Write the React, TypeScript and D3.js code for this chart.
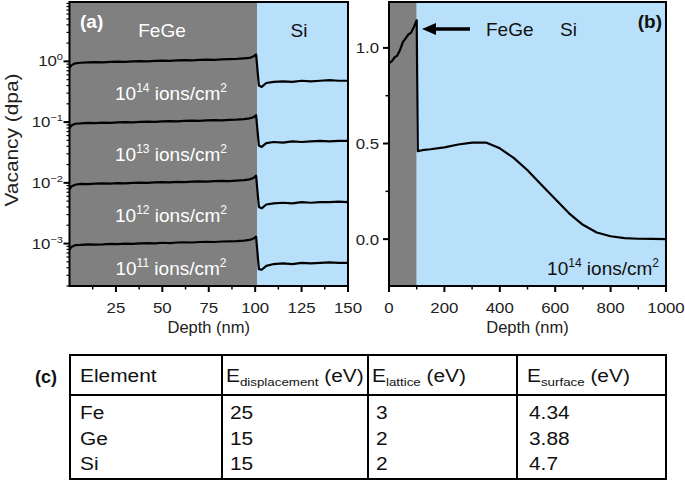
import React from 'react';
import * as d3 from 'd3';

// panel (a): SRIM vacancy profiles, 0-150 nm, log axis
const depthA = [0, 1, 3, 6, 10, 14, 18, 22, 26, 30, 34, 38, 42, 46, 50, 54, 58, 62, 66, 70, 74, 78, 82, 86, 90, 94, 97, 99, 100.5, 102, 103.5, 106, 110, 115, 120, 125, 130, 135, 140, 145, 150];
const vac14 = [0.78, 0.86, 0.93, 0.95, 0.96, 0.97, 0.96, 0.98, 0.99, 0.98, 1.0, 1.01, 1.0, 1.02, 1.03, 1.02, 1.04, 1.05, 1.04, 1.06, 1.07, 1.06, 1.08, 1.09, 1.1, 1.12, 1.14, 1.2, 1.3, 0.4, 0.38, 0.44, 0.46, 0.47, 0.46, 0.48, 0.47, 0.48, 0.49, 0.48, 0.48];
const vac13 = [0.079, 0.088, 0.094, 0.095, 0.097, 0.096, 0.098, 0.097, 0.099, 0.1, 0.099, 0.101, 0.102, 0.101, 0.103, 0.104, 0.103, 0.105, 0.106, 0.105, 0.107, 0.108, 0.107, 0.109, 0.11, 0.112, 0.115, 0.12, 0.13, 0.041, 0.039, 0.045, 0.047, 0.046, 0.048, 0.047, 0.048, 0.049, 0.048, 0.049, 0.049];
const vac12 = [0.0078, 0.0087, 0.0093, 0.0096, 0.0095, 0.0097, 0.0098, 0.0097, 0.0099, 0.0098, 0.01, 0.0101, 0.01, 0.0102, 0.0103, 0.0102, 0.0104, 0.0103, 0.0105, 0.0106, 0.0105, 0.0107, 0.0108, 0.0107, 0.0109, 0.0111, 0.0114, 0.012, 0.0131, 0.004, 0.0038, 0.0044, 0.0046, 0.0047, 0.0046, 0.0048, 0.0047, 0.0048, 0.0048, 0.0049, 0.0048];
const vac11 = [0.00079, 0.00088, 0.00094, 0.00095, 0.00097, 0.00096, 0.00097, 0.00099, 0.00098, 0.001, 0.00099, 0.00101, 0.00102, 0.00101, 0.00103, 0.00102, 0.00104, 0.00105, 0.00104, 0.00106, 0.00107, 0.00106, 0.00108, 0.00109, 0.0011, 0.00112, 0.00115, 0.0012, 0.0013, 0.00038, 0.00037, 0.00043, 0.00046, 0.00047, 0.00046, 0.00048, 0.00047, 0.00048, 0.00049, 0.00048, 0.00048];
const seriesA = [vac14, vac13, vac12, vac11];
const fluenceExp = ['14', '13', '12', '11'];
const fluenceLabelY = [0.23, 0.023, 0.0023, 0.0003];
const logTickExp = [0, -1, -2, -3];
const xTicksA = [25, 50, 75, 100, 125, 150];

// panel (b): 10^14 ions/cm2, 0-1000 nm, linear axis
const depthB = [0, 10, 20, 30, 40, 50, 60, 70, 80, 90, 100, 104, 120, 150, 200, 250, 300, 350, 400, 450, 500, 550, 600, 650, 700, 750, 800, 850, 900, 950, 1000];
const vacB = [0.92, 0.93, 0.95, 0.96, 0.99, 1.03, 1.05, 1.07, 1.08, 1.11, 1.145, 0.46, 0.465, 0.47, 0.48, 0.495, 0.505, 0.505, 0.475, 0.425, 0.36, 0.285, 0.21, 0.135, 0.075, 0.035, 0.015, 0.005, 0.002, 0.001, 0.0];
const yTicksB = [0, 0.5, 1.0];
const xTicksB = [0, 200, 400, 600, 800, 1000];

// table (c)
const elements = ['Fe', 'Ge', 'Si'];
const eDisplacement = ['25', '15', '15'];
const eLattice = ['3', '2', '2'];
const eSurface = ['4.34', '3.88', '4.7'];
const headerSubs = ['displacement', 'lattice', 'surface'];

const FONT = "'Liberation Sans', Arial, sans-serif";
const GRAY = '#808080';
const BLUE = '#b8e0fa';
const FEGE_END = 101;
const SX = 1.16; // the reference text is a little wide

const top = 2;
const bottom = 286;

const xA = d3.scaleLinear().domain([0, 150]).range([69.5, 348]);
const yA = d3.scaleLog().domain([2e-4, 9.5]).range([bottom, top]);
const xB = d3.scaleLinear().domain([0, 1000]).range([389, 666]);
const yB = d3.scaleLinear().domain([-0.245, 1.24]).range([bottom, top]);

const lineA = d3.line<number>().x((_, i) => xA(depthA[i])).y((d) => yA(d));
const lineB = d3.line<number>().x((_, i) => xB(depthB[i])).y((d) => yB(d));

// text stretched a bit horizontally, like in the original figure
const WideText = ({ x, y, children, size = 18, anchor = 'start', fill }: any) => (
  <g transform={`translate(${x},${y}) scale(${SX},1)`}>
    <text fontSize={size} textAnchor={anchor} fill={fill}>{children}</text>
  </g>
);

const Ions = ({ exp, x, y, anchor, fill }: any) => (
  <text x={x} y={y} textAnchor={anchor} fill={fill} fontSize={19}>
    10<tspan fontSize={12} dy={-8}>{exp}</tspan>
    <tspan dy={8}> ions/cm</tspan>
    <tspan fontSize={12} dy={-8}>2</tspan>
  </text>
);

const PanelA = () => {
  const minor: number[] = [];
  for (let e = -4; e <= 0; e++) {
    for (let k = 1; k <= 9; k++) {
      const v = k * Math.pow(10, e);
      if (v >= 2e-4 && v <= 9.5) minor.push(v);
    }
  }
  const xMinor = d3.range(12.5, 150, 25);
  return (
    <g fontFamily={FONT}>
      <rect x={xA(0)} y={top} width={xA(FEGE_END) - xA(0)} height={bottom - top} fill={GRAY} />
      <rect x={xA(FEGE_END)} y={top} width={xA(150) - xA(FEGE_END)} height={bottom - top} fill={BLUE} />
      {seriesA.map((s, i) => (
        <path key={i} d={lineA(s) || ''} fill="none" stroke="#000" strokeWidth={2.2} strokeLinejoin="round" />
      ))}
      {fluenceExp.map((e, i) => (
        <Ions key={e} exp={e} x={171} y={yA(fluenceLabelY[i])} anchor="middle" fill="#fff" />
      ))}
      <text x={80} y={28} fill="#fff" fontWeight="bold" fontSize={19}>(a)</text>
      <text x={162} y={37} fill="#fff" fontSize={19} textAnchor="middle">FeGe</text>
      <text x={299} y={37} fill="#111" fontSize={19} textAnchor="middle">Si</text>
      {/* frame */}
      <rect x={xA(0)} y={top} width={xA(150) - xA(0)} height={bottom - top} fill="none" stroke="#000" strokeWidth={2} />
      {/* y axis ticks */}
      {minor.map((v) => (
        <line key={v} x1={xA(0) - 3} x2={xA(0)} y1={yA(v)} y2={yA(v)} stroke="#000" strokeWidth={1.2} />
      ))}
      {logTickExp.map((e) => (
        <g key={e}>
          <line x1={xA(0) - 6} x2={xA(0)} y1={yA(Math.pow(10, e))} y2={yA(Math.pow(10, e))} stroke="#000" strokeWidth={2} />
          <WideText x={63} y={yA(Math.pow(10, e)) + 5} size={14.5} anchor="end" fill="#222">
            10<tspan fontSize={9.5} dy={-6}>{e === 0 ? '0' : `\u2212${-e}`}</tspan>
          </WideText>
        </g>
      ))}
      {/* x axis ticks */}
      {xMinor.map((v) => (
        <line key={v} x1={xA(v)} x2={xA(v)} y1={bottom} y2={bottom + 3.5} stroke="#000" strokeWidth={1.5} />
      ))}
      {xTicksA.map((v) => (
        <g key={v}>
          <line x1={xA(v)} x2={xA(v)} y1={bottom} y2={bottom + 6} stroke="#000" strokeWidth={2} />
          <WideText x={xA(v)} y={313} size={14.5} anchor="middle" fill="#222">{v}</WideText>
        </g>
      ))}
      <text x={(xA(0) + xA(150)) / 2} y={333} textAnchor="middle" fontSize={16.5} fill="#222">Depth (nm)</text>
      <g transform={`translate(18,140) rotate(-90) scale(${SX},1)`}>
        <text textAnchor="middle" fontSize={18} fill="#222">Vacancy (dpa)</text>
      </g>
    </g>
  );
};

const PanelB = () => {
  const xMinor = d3.range(100, 1000, 200);
  const yMinor = [0.25, 0.75];
  const ay = 29;
  return (
    <g fontFamily={FONT}>
      <rect x={xB(0)} y={top} width={xB(100) - xB(0)} height={bottom - top} fill={GRAY} />
      <rect x={xB(100)} y={top} width={xB(1000) - xB(100)} height={bottom - top} fill={BLUE} />
      <path d={lineB(vacB) || ''} fill="none" stroke="#000" strokeWidth={2.2} strokeLinejoin="round" />
      <rect x={xB(0)} y={top} width={xB(1000) - xB(0)} height={bottom - top} fill="none" stroke="#000" strokeWidth={2} />
      {/* arrow */}
      <line x1={470} x2={432} y1={ay} y2={ay} stroke="#000" strokeWidth={3.5} />
      <path d={`M422,${ay} L436,${ay - 6} L436,${ay + 6} Z`} fill="#000" />
      <text x={486} y={36} fontSize={19} fill="#111">FeGe</text>
      <text x={560} y={36} fontSize={19} fill="#111">Si</text>
      <text x={662} y={28} fontSize={19} fontWeight="bold" textAnchor="end" fill="#111">(b)</text>
      <Ions exp="14" x={659} y={275} anchor="end" fill="#111" />
      {yMinor.map((v) => (
        <line key={v} x1={xB(0) - 3.5} x2={xB(0)} y1={yB(v)} y2={yB(v)} stroke="#000" strokeWidth={1.5} />
      ))}
      {yTicksB.map((v) => (
        <g key={v}>
          <line x1={xB(0) - 6} x2={xB(0)} y1={yB(v)} y2={yB(v)} stroke="#000" strokeWidth={2} />
          <WideText x={379} y={yB(v) + 5.5} size={14.5} anchor="end" fill="#222">{d3.format('.1f')(v)}</WideText>
        </g>
      ))}
      {xMinor.map((v) => (
        <line key={v} x1={xB(v)} x2={xB(v)} y1={bottom} y2={bottom + 3.5} stroke="#000" strokeWidth={1.5} />
      ))}
      {xTicksB.map((v) => (
        <g key={v}>
          <line x1={xB(v)} x2={xB(v)} y1={bottom} y2={bottom + 6} stroke="#000" strokeWidth={2} />
          <WideText x={xB(v)} y={313} size={14.5} anchor="middle" fill="#222">{v}</WideText>
        </g>
      ))}
      <text x={(xB(0) + xB(1000)) / 2} y={333} textAnchor="middle" fontSize={16.5} fill="#222">Depth (nm)</text>
    </g>
  );
};

const Table = () => {
  const cols = [70, 222, 368, 517, 666];
  const tTop = 355;
  const hBottom = 395;
  const tBottom = 479;
  const rowY = [419, 445, 470];
  const columns = [elements, eDisplacement, eLattice, eSurface];
  const dataOffset = [10, 8, 8, 12];
  const headOffset = [10, 4, 4, 10];
  return (
    <g fontFamily={FONT} fill="#111">
      <text x={35} y={383} fontSize={18} fontWeight="bold">(c)</text>
      <rect x={cols[0]} y={tTop} width={cols[4] - cols[0]} height={tBottom - tTop} fill="none" stroke="#000" strokeWidth={2} />
      <line x1={cols[0]} x2={cols[4]} y1={hBottom} y2={hBottom} stroke="#000" strokeWidth={2} />
      {cols.slice(1, 4).map((c) => (
        <line key={c} x1={c} x2={c} y1={tTop} y2={tBottom} stroke="#000" strokeWidth={2} />
      ))}
      <WideText x={cols[0] + headOffset[0]} y={382}>Element</WideText>
      {headerSubs.map((s, i) => (
        <WideText key={s} x={cols[i + 1] + headOffset[i + 1]} y={382}>
          E<tspan fontSize={11.5} dy={4}>{s}</tspan>
          <tspan dy={-4}> (eV)</tspan>
        </WideText>
      ))}
      {columns.map((col, ci) =>
        col.map((v, ri) => (
          <WideText key={`${ci}-${ri}`} x={cols[ci] + dataOffset[ci]} y={rowY[ri]}>{v}</WideText>
        )),
      )}
    </g>
  );
};

export default function App() {
  return (
    <svg width={685} height={481} style={{ position: 'absolute', left: 0, top: 0, background: '#fff' }}>
      <rect width={685} height={481} fill="#fff" />
      <PanelA />
      <PanelB />
      <Table />
    </svg>
  );
}
